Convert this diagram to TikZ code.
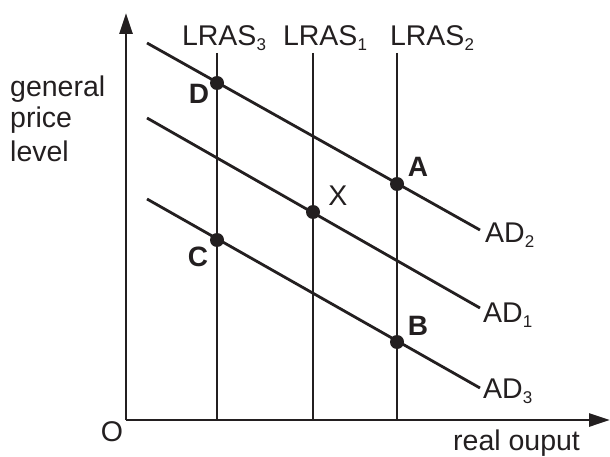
\documentclass[tikz,border=0pt]{standalone}
\usepackage{fontspec}
\setmainfont{Liberation Sans}
\usetikzlibrary{arrows.meta}
\definecolor{ink}{HTML}{231F20}
\newcommand{\mysub}[1]{\raisebox{-5pt}{\fontsize{17}{17}\selectfont #1}}
\begin{document}
\begin{tikzpicture}[x=1pt,y=-1pt,
  ln/.style={draw=ink,line width=2.8pt},
  ax/.style={draw=ink,line width=2.8pt,-{Triangle[length=21pt,width=13pt]}},
  dot/.style={circle,fill=ink,inner sep=0pt,minimum size=14pt},
  lbl/.style={font=\fontsize{28.5}{28.5}\selectfont,text=ink,inner sep=0pt},
  blbl/.style={font=\fontsize{28}{28}\selectfont\bfseries,text=ink,inner sep=0pt}]
\useasboundingbox (0,0) rectangle (610,457);
% axes
\coordinate (O) at (126,420);
\coordinate (ytop) at (126,13);
\coordinate (xend) at (610,420);
\draw[ax] (O) -- (ytop);
\draw[ax] (O) -- (xend);
% LRAS lines
\coordinate (l3t) at (217,53); \coordinate (l3b) at (217,420);
\coordinate (l1t) at (313,53); \coordinate (l1b) at (313,420);
\coordinate (l2t) at (397,53); \coordinate (l2b) at (397,420);
\draw[ln] (l3t) -- (l3b);
\draw[ln] (l1t) -- (l1b);
\draw[ln] (l2t) -- (l2b);
% AD lines
\coordinate (ad2s) at (147,43); \coordinate (ad2e) at (480,230);
\coordinate (ad1s) at (147,118); \coordinate (ad1e) at (480,308);
\coordinate (ad3s) at (147,199); \coordinate (ad3e) at (480,388);
\draw[ln] (ad2s) -- (ad2e);
\draw[ln] (ad1s) -- (ad1e);
\draw[ln] (ad3s) -- (ad3e);
% points
\node[dot] (D) at (217,83) {};
\node[dot] (A) at (397,184) {};
\node[dot] (X) at (313,212) {};
\node[dot] (C) at (217,240) {};
\node[dot] (B) at (397,342) {};
% labels
\node[blbl] (Dl) at (199,94) {D};
\node[blbl] (Al) at (418,167) {A};
\node[blbl] (Bl) at (418,326) {B};
\node[blbl] (Cl) at (198,257) {C};
\node[lbl] (Xl) at (338,196) {X};
\node[lbl] (Ol) at (112,432) {O};
\node[lbl,anchor=base] (L3) at (224,46) {LRAS\mysub{3}};
\node[lbl,anchor=base] (L1) at (325,46) {LRAS\mysub{1}};
\node[lbl,anchor=base] (L2) at (432,46) {LRAS\mysub{2}};
\node[lbl,anchor=base west] (AD2) at (485,242) {AD\mysub{2}};
\node[lbl,anchor=base west] (AD1) at (483,322) {AD\mysub{1}};
\node[lbl,anchor=base west] (AD3) at (483,398) {AD\mysub{3}};
\node[lbl,anchor=base west] (g1) at (10,97) {general};
\node[lbl,anchor=base west] (g2) at (10,128) {price};
\node[lbl,anchor=base west] (g3) at (10,162) {level};
\node[lbl,anchor=base west] (ro) at (453,450) {real ouput};
\end{tikzpicture}
\end{document}
